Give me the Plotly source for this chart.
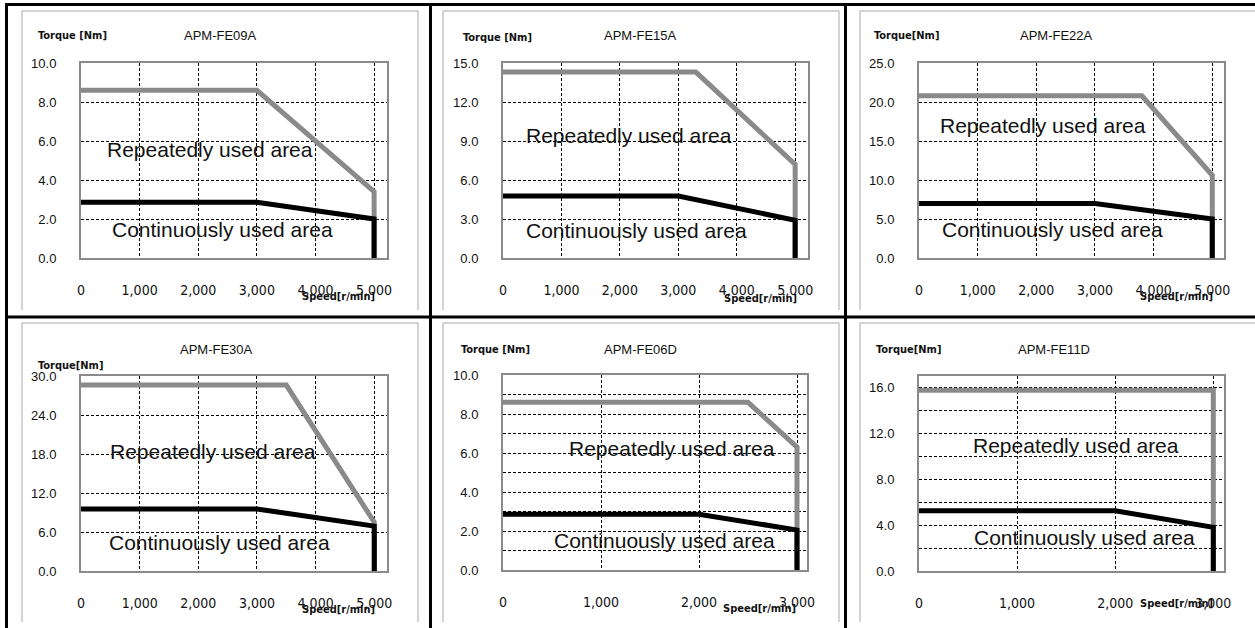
import plotly.graph_objects as go

W, H = 1255, 628

# ---------------- data ----------------
models = ["APM-FE09A", "APM-FE15A", "APM-FE22A", "APM-FE30A", "APM-FE06D", "APM-FE11D"]
torque_titles = ["Torque [Nm]", "Torque [Nm]", "Torque[Nm]", "Torque[Nm]", "Torque [Nm]", "Torque[Nm]"]
speed_title = "Speed[r/min]"
label_repeated = "Repeatedly used area"
label_continuous = "Continuously used area"

speed_ticks_5000 = [0, 1000, 2000, 3000, 4000, 5000]
speed_labels_5000 = ["0", "1,000", "2,000", "3,000", "4,000", "5,000"]
speed_ticks_3000 = [0, 1000, 2000, 3000]
speed_labels_3000 = ["0", "1,000", "2,000", "3,000"]

torque_ticks_09A = [0, 2, 4, 6, 8, 10]
torque_ticks_15A = [0, 3, 6, 9, 12, 15]
torque_ticks_22A = [0, 5, 10, 15, 20, 25]
torque_ticks_30A = [0, 6, 12, 18, 24, 30]
torque_ticks_06D = [0, 2, 4, 6, 8, 10]
torque_ticks_11D = [0, 4, 8, 12, 16]

rep_speed_09A = [0, 3000, 5000, 5000]
rep_torque_09A = [8.6, 8.6, 3.4, 0]
cont_speed_09A = [0, 3000, 5000, 5000]
cont_torque_09A = [2.86, 2.86, 2.0, 0]

rep_speed_15A = [0, 3300, 5000, 5000]
rep_torque_15A = [14.3, 14.3, 7.2, 0]
cont_speed_15A = [0, 3000, 5000, 5000]
cont_torque_15A = [4.77, 4.77, 2.9, 0]

rep_speed_22A = [0, 3800, 5000, 5000]
rep_torque_22A = [20.8, 20.8, 10.6, 0]
cont_speed_22A = [0, 3000, 5000, 5000]
cont_torque_22A = [7.0, 7.0, 5.0, 0]

rep_speed_30A = [0, 3500, 5000, 5000]
rep_torque_30A = [28.6, 28.6, 7.5, 0]
cont_speed_30A = [0, 3000, 5000, 5000]
cont_torque_30A = [9.55, 9.55, 6.9, 0]

rep_speed_06D = [0, 2500, 3000, 3000]
rep_torque_06D = [8.6, 8.6, 6.3, 0]
cont_speed_06D = [0, 2000, 3000, 3000]
cont_torque_06D = [2.86, 2.86, 2.05, 0]

rep_speed_11D = [0, 3000, 3000]
rep_torque_11D = [15.75, 15.75, 0]
cont_speed_11D = [0, 2000, 3000, 3000]
cont_torque_11D = [5.25, 5.25, 3.8, 0]

# ---------------- layout helpers ----------------
def px(x):
    return min(max(x / W, 0.0), 1.0)

def py(y):
    return min(max(1 - y / H, 0.0), 1.0)

GREY = "#8a8a8a"
FRAME = "#a8a8a8"
BASE_FONT = "Liberation Sans, Arial, sans-serif"
NARROW = "Liberation Sans Narrow, DejaVu Sans Condensed, Liberation Sans, Arial, sans-serif"

panels = [
    dict(model=models[0], tt=torque_titles[0], xt=speed_ticks_5000, xl=speed_labels_5000, xr=5220,
         yt=torque_ticks_09A, yr=10, minor=None,
         rep=(rep_speed_09A, rep_torque_09A), cont=(cont_speed_09A, cont_torque_09A),
         box=(81, 387, 63, 258), title=(220, 36), tlab=(36, 36), slab=(300, 297),
         rep_txt=(410, 5.55), cont_txt=(495, 1.45)),
    dict(model=models[1], tt=torque_titles[1], xt=speed_ticks_5000, xl=speed_labels_5000, xr=5220,
         yt=torque_ticks_15A, yr=15, minor=None,
         rep=(rep_speed_15A, rep_torque_15A), cont=(cont_speed_15A, cont_torque_15A),
         box=(503, 808, 63, 258), title=(640, 36), tlab=(461, 38), slab=(722, 298),
         rep_txt=(360, 9.45), cont_txt=(360, 2.13)),
    dict(model=models[2], tt=torque_titles[2], xt=speed_ticks_5000, xl=speed_labels_5000, xr=5200,
         yt=torque_ticks_22A, yr=25, minor=None,
         rep=(rep_speed_22A, rep_torque_22A), cont=(cont_speed_22A, cont_torque_22A),
         box=(919, 1224, 63, 258), title=(1056, 36), tlab=(872, 36), slab=(1138, 297),
         rep_txt=(324, 17.0), cont_txt=(363, 3.64)),
    dict(model=models[3], tt=torque_titles[3], xt=speed_ticks_5000, xl=speed_labels_5000, xr=5217,
         yt=torque_ticks_30A, yr=30, minor=None,
         rep=(rep_speed_30A, rep_torque_30A), cont=(cont_speed_30A, cont_torque_30A),
         box=(81, 387, 376, 571), title=(216, 349), tlab=(36, 365), slab=(300, 609),
         rep_txt=(466, 18.46), cont_txt=(438, 4.46)),
    dict(model=models[4], tt=torque_titles[4], xt=speed_ticks_3000, xl=speed_labels_3000, xr=3102,
         yt=torque_ticks_06D, yr=10, minor=1,
         rep=(rep_speed_06D, rep_torque_06D), cont=(cont_speed_06D, cont_torque_06D),
         box=(503, 807, 375, 570), title=(640, 349), tlab=(459, 349), slab=(721, 608),
         rep_txt=(652, 6.24), cont_txt=(503, 1.49)),
    dict(model=models[5], tt=torque_titles[5], xt=speed_ticks_3000, xl=speed_labels_3000, xr=3109,
         yt=torque_ticks_11D, yr=17, minor=2,
         rep=(rep_speed_11D, rep_torque_11D), cont=(cont_speed_11D, cont_torque_11D),
         box=(919, 1224, 376, 571), title=(1054, 349), tlab=(874, 349), slab=(1138, 603),
         rep_txt=(525, 10.9), cont_txt=(542, 2.9)),
]

fig = go.Figure()
annotations = []
shapes = []

for i, p in enumerate(panels, start=1):
    sfx = "" if i == 1 else str(i)
    xa, ya = "x" + sfx, "y" + sfx
    x0, x1, y0, y1 = p["box"]
    # traces: repeated (grey) first, continuous (black) on top
    fig.add_trace(go.Scatter(x=p["rep"][0], y=p["rep"][1], mode="lines",
                             line=dict(color=GREY, width=5), xaxis=xa, yaxis=ya,
                             showlegend=False, hoverinfo="skip", cliponaxis=False))
    fig.add_trace(go.Scatter(x=p["cont"][0], y=p["cont"][1], mode="lines",
                             line=dict(color="black", width=5), xaxis=xa, yaxis=ya,
                             showlegend=False, hoverinfo="skip", cliponaxis=False))

    xaxis = dict(domain=[px(x0), px(x1)], range=[0, p["xr"]], anchor=ya,
                 tickvals=p["xt"], ticktext=p["xl"], ticks="", ticklabelstandoff=18,
                 tickfont=dict(family=NARROW, size=14, color="#111"),
                 showline=True, linecolor=GREY, linewidth=2, mirror=True,
                 showgrid=True, gridcolor="black", gridwidth=1, griddash="3px,2px",
                 zeroline=False, fixedrange=True, automargin=False)
    yaxis = dict(domain=[py(y1), py(y0)], range=[0, p["yr"]], anchor=xa,
                 tickvals=p["yt"], ticktext=["%.1f" % v for v in p["yt"]], ticks="",
                 ticklabelstandoff=20,
                 tickfont=dict(family=BASE_FONT, size=13, color="#111"),
                 showline=True, linecolor=GREY, linewidth=2, mirror=True,
                 showgrid=True, gridcolor="black", gridwidth=1, griddash="3px,2px",
                 zeroline=False, fixedrange=True, automargin=False)
    if p["minor"]:
        yaxis["minor"] = dict(dtick=p["minor"], tick0=0, showgrid=True, gridcolor="black",
                              gridwidth=1, griddash="3px,2px", ticks="")
    fig.layout["xaxis" + sfx] = xaxis
    fig.layout["yaxis" + sfx] = yaxis

    # texts
    annotations.append(dict(text=p["model"], x=px(p["title"][0]), y=py(p["title"][1]),
                            xref="paper", yref="paper", xanchor="center", yanchor="middle",
                            showarrow=False, font=dict(family=BASE_FONT, size=13, color="#111")))
    annotations.append(dict(text="<b>%s</b>" % p["tt"], x=px(p["tlab"][0]), y=py(p["tlab"][1]),
                            xref="paper", yref="paper", xanchor="left", yanchor="middle",
                            showarrow=False, font=dict(family=NARROW, size=11, color="#111")))
    annotations.append(dict(text="<b>%s</b>" % speed_title, x=px(p["slab"][0]), y=py(p["slab"][1]),
                            xref="paper", yref="paper", xanchor="left", yanchor="middle",
                            showarrow=False, font=dict(family=NARROW, size=11, color="#111")))
    annotations.append(dict(text=label_repeated, x=p["rep_txt"][0], y=p["rep_txt"][1],
                            xref=xa, yref=ya, xanchor="left", yanchor="middle", showarrow=False,
                            font=dict(family=BASE_FONT, size=21, color="#111")))
    annotations.append(dict(text=label_continuous, x=p["cont_txt"][0], y=p["cont_txt"][1],
                            xref=xa, yref=ya, xanchor="left", yanchor="middle", showarrow=False,
                            font=dict(family=BASE_FONT, size=21, color="#111")))

# chart frames (open at bottom; rightmost column runs off the page)
frame_cols = [(22, 418, True), (443, 839, True), (860, 1255, False)]
frame_rows = [(11, 310), (323, 622)]
for (fx0, fx1, has_right) in frame_cols:
    for (fy0, fy1) in frame_rows:
        segs = [(fx0, fy1, fx0, fy0), (fx0, fy0, fx1, fy0)]
        if has_right:
            segs.append((fx1, fy0, fx1, fy1))
        for (ax, ay, bx, by) in segs:
            shapes.append(dict(type="line", xref="paper", yref="paper",
                               x0=px(ax), y0=py(ay), x1=px(bx), y1=py(by),
                               line=dict(color=FRAME, width=1)))

# table borders
for (ax, ay, bx, by) in [(6.5, 3, 6.5, 628), (5, 4.5, 1255, 4.5), (5, 317, 1255, 317),
                         (430.5, 3, 430.5, 628), (845.5, 3, 845.5, 628)]:
    shapes.append(dict(type="line", xref="paper", yref="paper",
                       x0=px(ax), y0=py(ay), x1=px(bx), y1=py(by),
                       line=dict(color="black", width=3)))

fig.update_layout(width=W, height=H,
                  margin=dict(l=0, r=0, t=0, b=0, pad=0, autoexpand=False),
                  paper_bgcolor="white", plot_bgcolor="white",
                  annotations=annotations, shapes=shapes, showlegend=False)

post = (
    "var d=document.getElementById('{plot_id}');"
    "var h=document.documentElement,b=document.body;"
    "h.style.margin='0';h.style.padding='0';h.style.overflow='hidden';"
    "b.style.margin='0';b.style.padding='0';b.style.overflow='hidden';"
    "d.style.position='fixed';d.style.left='0px';d.style.top='0px';"
)
fig.write_html("out.html", config={"displayModeBar": False}, post_script=post)
